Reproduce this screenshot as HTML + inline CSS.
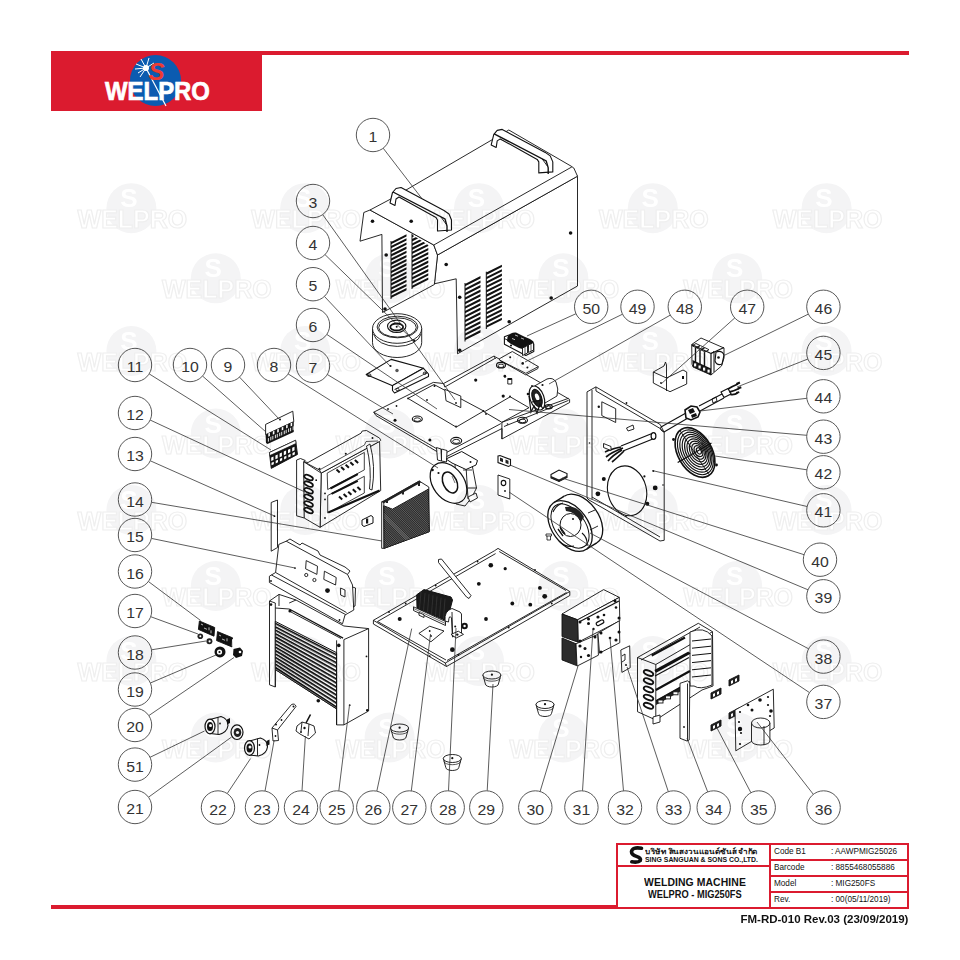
<!DOCTYPE html>
<html><head><meta charset="utf-8"><style>
html,body{margin:0;padding:0;background:#fff;}
body{width:960px;height:960px;position:relative;overflow:hidden;font-family:"Liberation Sans",sans-serif;}
svg{position:absolute;left:0;top:0;}
.c{fill:#fff;stroke:#444;stroke-width:0.9;}
.n{font-family:"Liberation Sans",sans-serif;font-size:14.8px;fill:#333;text-anchor:middle;}
.ws{font-family:"Liberation Sans",sans-serif;font-weight:bold;font-size:26px;fill:#fff;text-anchor:middle;}
.wt{font-family:"Liberation Sans",sans-serif;font-weight:bold;font-size:25px;fill:#fff;stroke:#efefef;stroke-width:1.2;text-anchor:middle;}
.L line{stroke:#333;stroke-width:0.8;}
.p{fill:#fff;stroke:#111;stroke-linejoin:round;}
.t{fill:none;stroke:#111;}
.k{fill:#111;stroke:none;}
.tb{position:absolute;font-family:"Liberation Sans",sans-serif;color:#111;white-space:nowrap;}
</style></head><body>
<svg width="960" height="960" viewBox="0 0 960 960">
<!-- header -->
<rect x="51" y="51" width="858" height="4" fill="#db1b2f"/>
<rect x="51" y="51" width="211" height="60" fill="#db1b2f"/>
<circle cx="155.5" cy="80.5" r="25.5" fill="#0b5bb0"/>
<g stroke="#fff" stroke-width="1" fill="none">
<path d="M146 68 L136 64 M146 68 L138 73 M146 68 L141 59 M146 68 L149 58 M146 68 L154 63 M146 68 L135 69 M146 68 L140 77"/>
<path d="M146 68 L166 106" stroke-width="1.2"/>
</g>
<circle cx="146" cy="68" r="3" fill="#fff"/>
<text x="156.5" y="80" font-family="Liberation Sans" font-weight="bold" font-style="italic" font-size="24" fill="#ee3b32" text-anchor="middle">S</text>
<text x="157.5" y="100" font-family="Liberation Sans" font-weight="bold" font-size="26" fill="#fff" stroke="#fff" stroke-width="0.7" text-anchor="middle" transform="translate(157.5 0) scale(0.92 1) translate(-157.5 0)">WELPRO</text>
<!-- footer -->
<rect x="51" y="905" width="567" height="4" fill="#db1b2f"/>
<g fill="none" stroke="#db1b2f" stroke-width="2">
<rect x="617" y="844" width="291" height="64"/>
<line x1="770" y1="844" x2="770" y2="908"/>
<line x1="617" y1="866" x2="770" y2="866"/>
<line x1="770" y1="860" x2="908" y2="860"/>
<line x1="770" y1="876" x2="908" y2="876"/>
<line x1="770" y1="892" x2="908" y2="892"/>
</g>
<g id="parts" stroke-width="0.9">
<polygon points="437.5,255.0 577.5,176.2 577.5,286.0 457.5,353.8 456.2,278.8 434.4,283.8" class="p" /><polygon points="363.8,212.5 370.0,210.0 433.8,245.0 437.5,255.0 434.4,284.5 382.5,312.5 381.9,234.4 360.0,241.2" class="p" /><polygon points="370.0,210.0 390.0,199.4 508.8,130.0 571.2,166.2 573.8,168.0 577.5,176.2 437.5,255.0 433.8,245.0" class="p" /><line x1="433.8" y1="245.0" x2="571.9" y2="166.9" class="t"/><path d="M391.0,244.2 L406.5,236.5 L406.5,234.2 L391.0,241.9 Z M391.0,248.3 L406.5,240.6 L406.5,238.3 L391.0,246.0 Z M391.0,252.5 L406.5,244.7 L406.5,242.4 L391.0,250.2 Z M391.0,256.6 L406.5,248.9 L406.5,246.6 L391.0,254.3 Z M391.0,260.8 L406.5,253.0 L406.5,250.7 L391.0,258.5 Z M391.0,264.9 L406.5,257.2 L406.5,254.9 L391.0,262.6 Z M391.0,269.1 L406.5,261.3 L406.5,259.0 L391.0,266.8 Z M391.0,273.2 L406.5,265.4 L406.5,263.1 L391.0,270.9 Z M391.0,277.3 L406.5,269.6 L406.5,267.3 L391.0,275.0 Z M391.0,281.5 L406.5,273.7 L406.5,271.4 L391.0,279.2 Z M391.0,285.6 L406.5,277.9 L406.5,275.6 L391.0,283.3 Z M391.0,289.8 L406.5,282.0 L406.5,279.7 L391.0,287.5 Z M391.0,293.9 L406.5,286.2 L406.5,283.9 L391.0,291.6 Z M391.0,298.1 L406.5,290.3 L406.5,288.0 L391.0,295.8 Z " fill="#111"/><line x1="391.0" y1="241.0" x2="391.0" y2="299.0" class="t" stroke-width="1.0"/><clipPath id="cl6"><polygon points="411.0,234.0 429.0,245.5 429.0,300.0 411.0,300.0"/></clipPath><path d="M412.0,237.2 L428.3,229.1 L428.3,226.8 L412.0,234.9 Z M412.0,241.4 L428.3,233.3 L428.3,231.0 L412.0,239.1 Z M412.0,245.7 L428.3,237.5 L428.3,235.2 L412.0,243.4 Z M412.0,249.9 L428.3,241.7 L428.3,239.4 L412.0,247.6 Z M412.0,254.1 L428.3,246.0 L428.3,243.7 L412.0,251.8 Z M412.0,258.4 L428.3,250.2 L428.3,247.9 L412.0,256.1 Z M412.0,262.6 L428.3,254.4 L428.3,252.1 L412.0,260.3 Z M412.0,266.8 L428.3,258.7 L428.3,256.4 L412.0,264.5 Z M412.0,271.0 L428.3,262.9 L428.3,260.6 L412.0,268.7 Z M412.0,275.3 L428.3,267.1 L428.3,264.8 L412.0,273.0 Z M412.0,279.5 L428.3,271.4 L428.3,269.1 L412.0,277.2 Z M412.0,283.7 L428.3,275.6 L428.3,273.3 L412.0,281.4 Z M412.0,288.0 L428.3,279.8 L428.3,277.5 L412.0,285.7 Z " fill="#111" clip-path="url(#cl6)"/><line x1="412.0" y1="234.0" x2="412.0" y2="289.0" class="t" stroke-width="1.0"/><path d="M465.0,286.2 L480.5,278.4 L480.5,276.1 L465.0,283.9 Z M465.0,290.7 L480.5,282.9 L480.5,280.6 L465.0,288.4 Z M465.0,295.2 L480.5,287.4 L480.5,285.1 L465.0,292.9 Z M465.0,299.7 L480.5,291.9 L480.5,289.6 L465.0,297.4 Z M465.0,304.2 L480.5,296.4 L480.5,294.1 L465.0,301.9 Z M465.0,308.7 L480.5,300.9 L480.5,298.6 L465.0,306.4 Z M465.0,313.2 L480.5,305.4 L480.5,303.1 L465.0,310.9 Z M465.0,317.7 L480.5,309.9 L480.5,307.6 L465.0,315.4 Z M465.0,322.2 L480.5,314.4 L480.5,312.1 L465.0,319.9 Z M465.0,326.7 L480.5,318.9 L480.5,316.6 L465.0,324.4 Z M465.0,331.2 L480.5,323.4 L480.5,321.1 L465.0,328.9 Z M465.0,335.7 L480.5,327.9 L480.5,325.6 L465.0,333.4 Z M465.0,340.2 L480.5,332.4 L480.5,330.1 L465.0,337.9 Z " fill="#111"/><line x1="465.0" y1="283.0" x2="465.0" y2="341.5" class="t" stroke-width="1.0"/><path d="M486.3,274.9 L501.9,267.1 L501.9,264.8 L486.3,272.6 Z M486.3,279.3 L501.9,271.5 L501.9,269.2 L486.3,277.0 Z M486.3,283.7 L501.9,275.9 L501.9,273.6 L486.3,281.4 Z M486.3,288.1 L501.9,280.3 L501.9,278.0 L486.3,285.8 Z M486.3,292.5 L501.9,284.7 L501.9,282.4 L486.3,290.2 Z M486.3,296.9 L501.9,289.1 L501.9,286.8 L486.3,294.6 Z M486.3,301.3 L501.9,293.5 L501.9,291.2 L486.3,299.0 Z M486.3,305.8 L501.9,298.0 L501.9,295.7 L486.3,303.5 Z M486.3,310.2 L501.9,302.4 L501.9,300.1 L486.3,307.9 Z M486.3,314.6 L501.9,306.8 L501.9,304.5 L486.3,312.3 Z M486.3,319.0 L501.9,311.2 L501.9,308.9 L486.3,316.7 Z M486.3,323.4 L501.9,315.6 L501.9,313.3 L486.3,321.1 Z M486.3,327.8 L501.9,320.0 L501.9,317.7 L486.3,325.5 Z " fill="#111"/><line x1="486.3" y1="271.7" x2="486.3" y2="329.0" class="t" stroke-width="1.0"/><circle cx="372.5" cy="221.2" r="1.8" class="k"/><circle cx="411.2" cy="221.2" r="1.8" class="k"/><circle cx="386.2" cy="255.0" r="1.8" class="k"/><circle cx="446.2" cy="264.5" r="1.8" class="k"/><circle cx="459.7" cy="297.2" r="1.8" class="k"/><circle cx="570.6" cy="233.0" r="1.8" class="k"/><circle cx="551.2" cy="298.0" r="1.8" class="k"/><circle cx="459.7" cy="350.3" r="1.8" class="k"/><circle cx="385.0" cy="309.0" r="1.8" class="k"/><circle cx="509.2" cy="321.7" r="1.8" class="k"/><polygon points="390.0,203.0 392.5,192.5 396.0,188.5 401.0,187.5 444.0,210.5 449.0,214.0 451.5,220.0 451.5,230.0 437.5,231.0 437.5,220.0 436.0,217.5 399.0,197.0 396.0,199.0 395.0,205.5" class="p" stroke-width="1.1"/><polyline points="393.0,192.0 445.0,219.0 447.0,226.0 447.0,232.0" class="t" stroke-width="1.4"/><polyline points="441.0,217.0 446.0,224.0" class="t" /><polygon points="491.2,144.9 493.8,134.4 497.2,130.4 502.2,129.4 545.2,152.4 550.2,155.9 552.8,161.9 552.8,171.9 538.8,172.9 538.8,161.9 537.2,159.4 500.2,138.9 497.2,140.9 496.2,147.4" class="p" stroke-width="1.1"/><polyline points="494.2,133.9 546.2,160.9 548.2,167.9 548.2,173.9" class="t" stroke-width="1.4"/><polyline points="542.2,158.9 547.2,165.9" class="t" /><g class="p"><path d="M372.5,328.5 L372.5,342.7 A24.6,14.8 0 0 0 421.7,342.7 L421.7,328.5 Z" class="p"/><ellipse cx="397.1" cy="328.5" rx="24.6" ry="14.8" class="p"/></g><path d="M373.5,334 A24,14.5 0 0 0 421,334" class="t"/><ellipse cx="397.5" cy="327" rx="20.4" ry="10.8" class="t"/><ellipse cx="397.5" cy="327.5" rx="18.8" ry="9.6" class="t"/><ellipse cx="396.7" cy="326.3" rx="9.2" ry="6.2" class="t" stroke-width="1.1"/><ellipse cx="396.7" cy="327" rx="6.4" ry="3.5" class="t" stroke-width="1.8"/><circle cx="396.7" cy="326.7" r="1.0" class="k"/><circle cx="414.2" cy="340.8" r="1.2" class="k"/><polygon points="366.2,374.5 391.2,359.4 423.5,368.2 392.6,385.8" class="p" stroke-width="1.1"/><polygon points="392.5,385.5 423.5,368.3 428.5,374.0 428.5,376.5 394.5,393.0 392.5,390.5" class="p" stroke-width="1.1"/><line x1="394.5" y1="389.5" x2="427.5" y2="372.5" class="t" stroke-width="0.8"/><ellipse cx="369" cy="375.2" rx="2" ry="1.3" class="t" stroke-width="0.9"/><ellipse cx="424.8" cy="373.2" rx="1.6" ry="1.1" class="t" stroke-width="0.9"/><ellipse cx="397.5" cy="389.5" rx="1.6" ry="1.1" class="t" stroke-width="0.9"/><circle cx="390.5" cy="366.0" r="1.1" class="k"/><circle cx="397" cy="370.5" r="1.7" fill="#555"/><polygon points="373.7,412.2 376.0,415.6 446.0,456.9 502.0,428.5 501.9,439.0 569.6,402.5 569.6,399.4 495.6,357.0 494.0,356.0 443.6,383.5 433.3,382.4" class="p" /><line x1="373.7" y1="412.2" x2="444.8" y2="453.4" class="t"/><line x1="444.8" y1="453.4" x2="500.9" y2="423.6" class="t"/><line x1="444.8" y1="453.4" x2="446.0" y2="456.9" class="t"/><line x1="444.8" y1="387.0" x2="495.2" y2="358.3" class="t"/><line x1="443.6" y1="383.5" x2="444.8" y2="387.0" class="t"/><line x1="494.0" y1="356.0" x2="495.6" y2="359.0" class="t"/><line x1="501.9" y1="422.3" x2="568.5" y2="398.3" class="t"/><line x1="504.0" y1="426.5" x2="568.5" y2="400.4" class="t"/><line x1="501.9" y1="422.3" x2="501.9" y2="439.0" class="t"/><polygon points="484.2,411.9 510.2,396.8 529.0,407.7 501.9,422.3" class="t" /><polygon points="408.0,398.4 434.0,384.5 483.7,411.0 456.2,427.1" class="t" /><polygon points="444.8,389.3 460.8,396.1 460.8,407.6 446.0,400.7" class="p" /><circle cx="456.0" cy="403.0" r="0.9" class="k"/><ellipse cx="417.3" cy="419" rx="5" ry="3" class="t" stroke-width="1.1"/><ellipse cx="417.3" cy="419.6" rx="3.25" ry="1.7999999999999998" class="t"/><ellipse cx="456.2" cy="440.8" rx="5.5" ry="3.4" class="t" stroke-width="1.1"/><ellipse cx="456.2" cy="441.40000000000003" rx="3.575" ry="2.04" class="t"/><ellipse cx="522.5" cy="420.3" rx="5" ry="3" class="t" stroke-width="1.1"/><ellipse cx="522.5" cy="420.90000000000003" rx="3.25" ry="1.7999999999999998" class="t"/><ellipse cx="501" cy="365.2" rx="4.5" ry="2.8" class="t" stroke-width="1.1"/><ellipse cx="501" cy="365.8" rx="2.9250000000000003" ry="1.68" class="t"/><ellipse cx="548.7" cy="406.7" rx="3.6" ry="2.2" class="t" stroke-width="1.1"/><ellipse cx="548.7" cy="407.3" rx="2.3400000000000003" ry="1.32" class="t"/><circle cx="395.0" cy="420.2" r="1.5" class="k"/><circle cx="429.9" cy="440.1" r="1.5" class="k"/><circle cx="475.7" cy="380.1" r="1.6" class="k"/><circle cx="503.2" cy="396.1" r="1.6" class="k"/><circle cx="504.8" cy="376.0" r="1.3" class="k"/><circle cx="505.0" cy="376.5" r="1.2" class="k"/><circle cx="434.5" cy="386.0" r="1.0" class="k"/><circle cx="408.0" cy="398.4" r="0.9" class="k"/><circle cx="456.0" cy="426.5" r="0.9" class="k"/><circle cx="483.5" cy="411.0" r="0.9" class="k"/><circle cx="396.5" cy="406.0" r="0.9" class="k"/><circle cx="486.0" cy="414.0" r="0.9" class="k"/><circle cx="388.0" cy="409.0" r="0.9" class="k"/><circle cx="427.0" cy="400.0" r="0.9" class="k"/><circle cx="507.5" cy="424.0" r="0.8" class="k"/><circle cx="510.0" cy="396.5" r="0.9" class="k"/><circle cx="532.0" cy="386.0" r="0.9" class="k"/><rect x="507.8" y="378.5" width="4" height="5.5" class="p" stroke-width="0.9"/><rect x="507.8" y="378" width="4" height="2" fill="#111"/><polygon points="499.3,358.8 512.3,351.5 538.3,366.6 537.8,368.6 525.8,374.9 499.8,360.3" class="p" /><line x1="499.8" y1="360.3" x2="525.8" y2="373.3" class="t"/><line x1="525.8" y1="373.3" x2="538.3" y2="366.6" class="t"/><circle cx="510.2" cy="357.2" r="1.0" class="k"/><circle cx="522.7" cy="363.4" r="1.3" class="k"/><circle cx="527.4" cy="367.6" r="1.0" class="k"/><path d="M534.5,386 L547,379 Q553,377 556,382 Q559,389 557,396 L545,403 Z" class="p"/><ellipse cx="537" cy="398" rx="7" ry="12.5" transform="rotate(-20 537 398)" class="p" stroke-width="1.2"/><ellipse cx="537" cy="398" rx="4.5" ry="9" transform="rotate(-20 537 398)" fill="#222" stroke="#111" stroke-width="1.2"/><ellipse cx="537.5" cy="397" rx="2" ry="3.5" transform="rotate(-20 537 398)" fill="#fff"/><path d="M529,396 L531,412 L534,406 L537,413 L540,404 L543,409 M532,402 L542,400" class="t" stroke-width="1.2"/><circle cx="542.5" cy="385.0" r="1.1" class="k"/><circle cx="528.0" cy="394.0" r="1.3" class="k"/><polygon points="265.6,424.4 292.8,411.2 293.8,421.6 265.6,434.7" class="p" /><circle cx="280.0" cy="419.5" r="1.0" class="k"/><path d="M265.6,434.7 L293.75,421.6 L293.75,432 L267.5,444 L266,443 Z" fill="#141414"/><path d="M268.3,433.6 l1.6,-0.75 l0,3.2 l-1.6,0.75 z M267.9,438.2 l0.9,-0.4 l0,3.6 l-0.9,0.4 z M270.4,437.0 l0.9,-0.4 l0,3.6 l-0.9,0.4 z M272.8,431.5 l1.6,-0.75 l0,3.2 l-1.6,0.75 z M272.4,436.1 l0.9,-0.4 l0,3.6 l-0.9,0.4 z M274.9,434.9 l0.9,-0.4 l0,3.6 l-0.9,0.4 z M277.2,429.5 l1.6,-0.75 l0,3.2 l-1.6,0.75 z M276.8,434.1 l0.9,-0.4 l0,3.6 l-0.9,0.4 z M279.3,432.9 l0.9,-0.4 l0,3.6 l-0.9,0.4 z M281.7,427.4 l1.6,-0.75 l0,3.2 l-1.6,0.75 z M281.3,432.0 l0.9,-0.4 l0,3.6 l-0.9,0.4 z M283.8,430.8 l0.9,-0.4 l0,3.6 l-0.9,0.4 z M286.1,425.3 l1.6,-0.75 l0,3.2 l-1.6,0.75 z M285.7,429.9 l0.9,-0.4 l0,3.6 l-0.9,0.4 z M288.2,428.7 l0.9,-0.4 l0,3.6 l-0.9,0.4 z M290.6,423.2 l1.6,-0.75 l0,3.2 l-1.6,0.75 z M290.2,427.9 l0.9,-0.4 l0,3.6 l-0.9,0.4 z M292.7,426.6 l0.9,-0.4 l0,3.6 l-0.9,0.4 z " fill="#fff"/><path d="M269.4,452.5 L295.6,440.3 L297.5,454.4 L271.25,468.4 Z" fill="#141414" stroke="#111"/><path d="M269.4,452.5 L295.6,440.3 L296,443.5 L269.8,455.6 Z" fill="#fff" stroke="#111" stroke-width="0.7"/><path d="M271.2,457.5 l2.3,-1.07 l0,3.6 l-2.3,1.07 z M271.5,462.7 l2.3,-1.07 l0,2.6 l-2.3,1.07 z M275.4,455.6 l2.3,-1.07 l0,3.6 l-2.3,1.07 z M275.7,460.8 l2.3,-1.07 l0,2.6 l-2.3,1.07 z M279.6,453.6 l2.3,-1.07 l0,3.6 l-2.3,1.07 z M279.9,458.8 l2.3,-1.07 l0,2.6 l-2.3,1.07 z M283.8,451.6 l2.3,-1.07 l0,3.6 l-2.3,1.07 z M284.1,456.8 l2.3,-1.07 l0,2.6 l-2.3,1.07 z M288.0,449.7 l2.3,-1.07 l0,3.6 l-2.3,1.07 z M288.3,454.9 l2.3,-1.07 l0,2.6 l-2.3,1.07 z M292.2,447.8 l2.3,-1.07 l0,3.6 l-2.3,1.07 z M292.5,452.9 l2.3,-1.07 l0,2.6 l-2.3,1.07 z " fill="#fff"/><polygon points="321.2,473.1 379.6,441.4 380.7,490.6 320.1,527.3" class="p" /><polygon points="303.7,461.7 308.0,462.5 361.0,433.2 362.2,431.0 366.5,430.5 379.6,438.1 380.7,440.3 379.6,441.4 321.2,473.1 319.5,470.0" class="p" /><polyline points="319.5,469.9 364.5,445.0 366.0,441.5 378.0,441.0" class="t" stroke-width="0.7"/><polygon points="296.6,460.0 300.5,458.5 305.3,460.5 303.7,461.7 321.2,473.1 320.1,527.3 304.2,518.0 296.6,515.8" class="p" /><line x1="303.7" y1="461.7" x2="304.2" y2="518.0" class="t" stroke-width="1.0"/><ellipse cx="308.6" cy="477.5" rx="4.6" ry="2.1" transform="rotate(24 308.6 477.5)" fill="#fff" stroke="#111" stroke-width="1.8"/><ellipse cx="308.6" cy="484.1" rx="4.6" ry="2.1" transform="rotate(24 308.6 484.1)" fill="#fff" stroke="#111" stroke-width="1.8"/><ellipse cx="308.6" cy="490.7" rx="4.6" ry="2.1" transform="rotate(24 308.6 490.7)" fill="#fff" stroke="#111" stroke-width="1.8"/><ellipse cx="308.6" cy="497.3" rx="4.6" ry="2.1" transform="rotate(24 308.6 497.3)" fill="#fff" stroke="#111" stroke-width="1.8"/><ellipse cx="308.6" cy="503.9" rx="4.6" ry="2.1" transform="rotate(24 308.6 503.9)" fill="#fff" stroke="#111" stroke-width="1.8"/><ellipse cx="308.6" cy="510.5" rx="4.6" ry="2.1" transform="rotate(24 308.6 510.5)" fill="#fff" stroke="#111" stroke-width="1.8"/><path d="M366.5,446 Q372,468 369.5,489 L372,490 Q376,466 370,444 Z" class="p" stroke-width="0.9"/><polygon points="327.2,473.1 364.3,452.4 364.3,469.9 327.7,489.5" class="t" stroke-width="0.8"/><polygon points="327.7,495.5 364.3,476.3 364.3,493.0 327.7,513.0" class="t" stroke-width="0.8"/><line x1="330.4" y1="488.5" x2="357.8" y2="474.2" class="t" stroke-width="2.0"/><line x1="331.5" y1="493.9" x2="357.8" y2="480.8" class="t" stroke-width="2.0"/><line x1="328.3" y1="512.5" x2="379.6" y2="490.6" class="t" stroke-width="2.2"/><line x1="336.5" y1="469.5" x2="339.7" y2="472.5" class="t" stroke-width="2.0"/><line x1="339.0" y1="496.5" x2="342.2" y2="499.5" class="t" stroke-width="2.0"/><line x1="341.1" y1="467.1" x2="344.3" y2="470.1" class="t" stroke-width="2.0"/><line x1="343.6" y1="494.1" x2="346.8" y2="497.1" class="t" stroke-width="2.0"/><line x1="345.7" y1="464.7" x2="348.9" y2="467.7" class="t" stroke-width="2.0"/><line x1="348.2" y1="491.7" x2="351.4" y2="494.7" class="t" stroke-width="2.0"/><line x1="350.3" y1="462.3" x2="353.5" y2="465.3" class="t" stroke-width="2.0"/><line x1="352.8" y1="489.3" x2="356.0" y2="492.3" class="t" stroke-width="2.0"/><line x1="354.9" y1="459.9" x2="358.1" y2="462.9" class="t" stroke-width="2.0"/><line x1="357.4" y1="486.9" x2="360.6" y2="489.9" class="t" stroke-width="2.0"/><circle cx="316.2" cy="480.2" r="0.9" class="k"/><circle cx="325.0" cy="493.4" r="0.9" class="k"/><circle cx="325.0" cy="499.4" r="0.9" class="k"/><circle cx="325.0" cy="518.0" r="0.9" class="k"/><circle cx="345.8" cy="453.7" r="1.0" class="k"/><circle cx="319.5" cy="468.8" r="1.0" class="k"/><circle cx="372.5" cy="438.1" r="1.0" class="k"/><path d="M362,520 L371,515.5 L373,517 L373,523 L364,526.5 L362,525 Z" class="p" stroke-width="1.0"/><rect x="366" y="518.5" width="2.2" height="5" fill="#111"/><polygon points="271.2,502.5 277.5,500.0 277.5,547.5 271.2,551.2" class="p" /><circle cx="274.5" cy="516.2" r="0.9" class="k"/><polygon points="381.7,501.7 383.8,501.0 419.2,481.0 428.8,487.0 429.2,531.7 384.2,548.3 381.7,548.3" class="p" /><path d="M383.75,505.8 L392.5,509.2 L428.3,489.2 L429.2,531.7 L384.2,548.3 Z" fill="#2a2a2a" stroke="#111" stroke-width="1"/><clipPath id="hs14"><path d="M383.75,505.8 L392.5,509.2 L428.3,489.2 L429.2,531.7 L384.2,548.3 Z"/></clipPath><path d="M356.6,490 L416.6,550 M358.8,490 L418.8,550 M361.0,490 L421.0,550 M363.2,490 L423.2,550 M365.4,490 L425.4,550 M367.6,490 L427.6,550 M369.8,490 L429.8,550 M372.0,490 L432.0,550 M374.2,490 L434.2,550 M376.4,490 L436.4,550 M378.6,490 L438.6,550 M380.8,490 L440.8,550 M383.0,490 L443.0,550 M385.2,490 L445.2,550 M387.4,490 L447.4,550 M389.6,490 L449.6,550 M391.8,490 L451.8,550 M394.0,490 L454.0,550 M396.2,490 L456.2,550 M398.4,490 L458.4,550 M400.6,490 L460.6,550 M402.8,490 L462.8,550 M405.0,490 L465.0,550 M407.2,490 L467.2,550 M409.4,490 L469.4,550 M411.6,490 L471.6,550 M413.8,490 L473.8,550 M416.0,490 L476.0,550 M418.2,490 L478.2,550 M420.4,490 L480.4,550 M422.6,490 L482.6,550 M424.8,490 L484.8,550 M427.0,490 L487.0,550 M429.2,490 L489.2,550 M431.4,490 L491.4,550 M433.6,490 L493.6,550 M435.8,490 L495.8,550 M438.0,490 L498.0,550 M383.0,550 L343.0,510 M385.2,550 L345.2,510 M387.4,550 L347.4,510 M389.6,550 L349.6,510 M391.8,550 L351.8,510 M394.0,550 L354.0,510 M396.2,550 L356.2,510 M398.4,550 L358.4,510 M400.6,550 L360.6,510 M402.8,550 L362.8,510 M405.0,550 L365.0,510 M407.2,550 L367.2,510 M409.4,550 L369.4,510 M411.6,550 L371.6,510 M413.8,550 L373.8,510 M416.0,550 L376.0,510 M418.2,550 L378.2,510 M420.4,550 L380.4,510 " stroke="#8a8a8a" stroke-width="0.55" fill="none" clip-path="url(#hs14)"/><line x1="383.8" y1="501.0" x2="383.8" y2="548.3" class="t" stroke-width="0.8"/><path d="M381.7,501.7 L419.5,480.5 L421,482.5 L383.5,503.5 Z" fill="#222"/><rect x="386" y="500" width="2" height="3" fill="#222"/><rect x="402" y="491.5" width="2" height="3" fill="#222"/><rect x="418" y="483" width="2" height="3" fill="#222"/><polygon points="436.5,447.5 441.0,449.0 441.5,461.0 437.5,460.0" class="p" /><polygon points="441.5,449.0 447.0,450.5 446.5,462.0 441.5,461.0" class="p" /><polygon points="455.0,462.0 472.0,464.5 476.5,488.0 472.0,497.0 465.0,506.0 456.0,504.0" class="p" /><line x1="466.0" y1="466.0" x2="468.0" y2="499.0" class="t" stroke-width="0.9"/><line x1="468.0" y1="488.0" x2="476.5" y2="488.0" class="t" stroke-width="0.9"/><line x1="463.0" y1="470.0" x2="472.0" y2="470.0" class="t" stroke-width="0.8"/><polygon points="468.0,497.0 476.0,493.0 477.5,498.0 470.0,502.0" class="p" stroke-width="0.9"/><polygon points="446.0,459.0 461.7,451.5 477.5,460.5 476.0,465.0 466.0,469.5 452.0,463.0" class="p" stroke-width="1.0"/><circle cx="470.5" cy="462.0" r="1.0" class="k"/><ellipse cx="448.5" cy="483" rx="15.5" ry="22.5" transform="rotate(-37 448.5 483)" class="p" stroke-width="1.2"/><ellipse cx="450" cy="482.5" rx="6.8" ry="11" transform="rotate(-25 450 482.5)" class="t" stroke-width="1.5"/><line x1="452.0" y1="476.0" x2="455.0" y2="483.0" class="t" stroke-width="0.6"/><circle cx="432.5" cy="470.0" r="1.3" class="k"/><circle cx="438.5" cy="473.0" r="1.1" class="k"/><polygon points="278.8,544.4 286.2,541.2 347.5,574.4 352.5,585.0 353.8,610.0 345.0,615.0 342.5,623.8 269.4,582.5 269.4,576.2 275.6,572.5" class="p" /><line x1="271.5" y1="575.0" x2="345.5" y2="614.5" class="t"/><line x1="275.6" y1="572.5" x2="346.5" y2="612.5" class="t"/><polyline points="286.2,541.2 290.0,539.0 300.0,545.0 302.0,543.0 318.0,551.0 320.0,555.0 345.0,567.0 350.0,571.0 347.5,574.4" class="t" /><polygon points="306.2,560.6 317.5,566.2 316.9,574.4 305.6,568.8" class="t" /><polygon points="324.4,571.2 336.2,577.5 335.6,585.0 323.8,579.4" class="t" /><polygon points="340.6,588.0 345.0,590.0 345.0,597.0 340.6,595.0" class="t" /><circle cx="327.5" cy="590.6" r="2.4" class="k"/><circle cx="306.25" cy="575" r="1.6" class="t"/><circle cx="314.4" cy="580" r="1.6" class="t"/><circle cx="295.0" cy="568.1" r="0.9" class="k"/><circle cx="271.0" cy="581.0" r="0.9" class="k"/><circle cx="339.5" cy="620.0" r="0.9" class="k"/><polyline points="352.5,587.0 355.5,588.0 355.0,606.0 353.0,607.0" class="t" /><polygon points="269.5,601.0 279.0,594.4 296.0,600.0 343.9,626.0 368.6,628.6 368.6,711.0 343.9,724.9 336.6,724.9 336.6,708.9 275.3,669.5 275.3,687.0 269.5,684.8" class="p" /><line x1="275.3" y1="603.0" x2="275.3" y2="687.0" class="t"/><line x1="275.3" y1="603.0" x2="269.5" y2="601.0" class="t"/><path d="M275.3,621.4 L336.6,652.7 L336.6,708.9 L275.3,669.5 Z" fill="#fff" stroke="#111" stroke-width="1"/><line x1="275.5" y1="623.4" x2="336.4" y2="654.7" class="t" stroke-width="1.5"/><line x1="275.5" y1="624.6" x2="336.4" y2="655.9" class="t" stroke-width="0.5"/><line x1="275.5" y1="626.8" x2="336.4" y2="658.7" class="t" stroke-width="1.5"/><line x1="275.5" y1="628.0" x2="336.4" y2="659.9" class="t" stroke-width="0.5"/><line x1="275.5" y1="630.2" x2="336.4" y2="662.7" class="t" stroke-width="1.5"/><line x1="275.5" y1="631.4" x2="336.4" y2="663.9" class="t" stroke-width="0.5"/><line x1="275.5" y1="633.6" x2="336.4" y2="666.7" class="t" stroke-width="1.5"/><line x1="275.5" y1="634.8" x2="336.4" y2="667.9" class="t" stroke-width="0.5"/><line x1="275.5" y1="637.0" x2="336.4" y2="670.8" class="t" stroke-width="1.5"/><line x1="275.5" y1="638.2" x2="336.4" y2="672.0" class="t" stroke-width="0.5"/><line x1="275.5" y1="640.4" x2="336.4" y2="674.8" class="t" stroke-width="1.5"/><line x1="275.5" y1="641.6" x2="336.4" y2="676.0" class="t" stroke-width="0.5"/><line x1="275.5" y1="643.8" x2="336.4" y2="678.8" class="t" stroke-width="1.5"/><line x1="275.5" y1="645.0" x2="336.4" y2="680.0" class="t" stroke-width="0.5"/><line x1="275.5" y1="647.1" x2="336.4" y2="682.8" class="t" stroke-width="1.5"/><line x1="275.5" y1="648.3" x2="336.4" y2="684.0" class="t" stroke-width="0.5"/><line x1="275.5" y1="650.5" x2="336.4" y2="686.8" class="t" stroke-width="1.5"/><line x1="275.5" y1="651.7" x2="336.4" y2="688.0" class="t" stroke-width="0.5"/><line x1="275.5" y1="653.9" x2="336.4" y2="690.8" class="t" stroke-width="1.5"/><line x1="275.5" y1="655.1" x2="336.4" y2="692.0" class="t" stroke-width="0.5"/><line x1="275.5" y1="657.3" x2="336.4" y2="694.9" class="t" stroke-width="1.5"/><line x1="275.5" y1="658.5" x2="336.4" y2="696.1" class="t" stroke-width="0.5"/><line x1="275.5" y1="660.7" x2="336.4" y2="698.9" class="t" stroke-width="1.5"/><line x1="275.5" y1="661.9" x2="336.4" y2="700.1" class="t" stroke-width="0.5"/><line x1="275.5" y1="664.1" x2="336.4" y2="702.9" class="t" stroke-width="1.5"/><line x1="275.5" y1="665.3" x2="336.4" y2="704.1" class="t" stroke-width="0.5"/><line x1="275.5" y1="667.5" x2="336.4" y2="706.9" class="t" stroke-width="1.5"/><line x1="275.5" y1="668.7" x2="336.4" y2="708.1" class="t" stroke-width="0.5"/><line x1="336.6" y1="640.3" x2="336.6" y2="724.9" class="t"/><line x1="343.9" y1="639.6" x2="343.9" y2="724.9" class="t"/><line x1="343.9" y1="639.6" x2="368.6" y2="628.6" class="t"/><line x1="289.2" y1="609.0" x2="343.1" y2="638.1" class="t" stroke-width="1.2"/><line x1="291.0" y1="612.0" x2="341.0" y2="638.5" class="t"/><line x1="275.3" y1="608.0" x2="289.2" y2="609.0" class="t"/><line x1="279.0" y1="594.4" x2="279.0" y2="606.0" class="t"/><polyline points="289.2,603.0 296.0,600.0" class="t" /><circle cx="271.0" cy="604.6" r="1.3" class="k"/><circle cx="338.8" cy="645.4" r="1.8" class="k"/><circle cx="318.3" cy="700.8" r="1.8" class="k"/><circle cx="366.5" cy="656.4" r="0.9" class="k"/><circle cx="367.2" cy="710.3" r="1.2" class="k"/><circle cx="349.7" cy="705.2" r="0.9" class="k"/><circle cx="290.0" cy="611.0" r="1.6" class="k"/><polygon points="373.4,620.3 494.4,550.8 498.0,548.4 569.8,591.5 569.8,595.5 446.5,666.5 373.4,624.0" class="p" /><line x1="373.4" y1="620.3" x2="445.3" y2="663.0" class="t"/><line x1="445.3" y1="663.0" x2="569.8" y2="591.5" class="t"/><line x1="445.3" y1="663.0" x2="446.5" y2="666.5" class="t"/><polyline points="377.5,621.5 495.6,553.6" class="t" /><polyline points="499.2,551.5 566.0,590.5" class="t" /><polyline points="447.0,660.5 566.5,592.5" class="t" /><polyline points="377.5,621.5 446.0,660.0" class="t" /><circle cx="405.7" cy="603.5" r="0.9" class="k"/><circle cx="435.7" cy="585.5" r="0.9" class="k"/><circle cx="477.6" cy="561.6" r="0.9" class="k"/><circle cx="535.0" cy="570.0" r="0.9" class="k"/><circle cx="551.8" cy="603.5" r="0.9" class="k"/><circle cx="508.7" cy="627.5" r="0.9" class="k"/><circle cx="458.4" cy="655.0" r="0.9" class="k"/><circle cx="389.0" cy="612.0" r="0.9" class="k"/><circle cx="429.7" cy="656.2" r="0.9" class="k"/><circle cx="490.8" cy="565.2" r="2.3" class="k"/><circle cx="505.2" cy="568.7" r="1.6" class="k"/><circle cx="478.8" cy="583.8" r="1.9" class="k"/><circle cx="512.3" cy="603.5" r="1.9" class="k"/><circle cx="530.3" cy="604.7" r="1.9" class="k"/><circle cx="539.9" cy="587.9" r="1.9" class="k"/><circle cx="544.7" cy="596.3" r="2.4" class="k"/><circle cx="486.0" cy="619.0" r="1.9" class="k"/><circle cx="399.7" cy="619.0" r="2.0" class="k"/><circle cx="452.4" cy="649.7" r="2.4" class="k"/><polygon points="418.9,633.4 429.7,626.2 444.0,631.0 430.9,641.8" class="p" /><circle cx="429.7" cy="631.0" r="0.9" class="k"/><circle cx="431.0" cy="636.0" r="0.9" class="k"/><path d="M416.7,594.8 L424,589.6 L451,597 L452.5,600 L447,621 L417,608 Z" fill="#1a1a1a" stroke="#111" stroke-width="1"/><line x1="421.0" y1="592.0" x2="419.5" y2="609.0" stroke="#3a3a3a" stroke-width="0.7"/><line x1="425.0" y1="593.1" x2="423.5" y2="610.6" stroke="#3a3a3a" stroke-width="0.7"/><line x1="429.0" y1="594.2" x2="427.5" y2="612.2" stroke="#3a3a3a" stroke-width="0.7"/><line x1="433.0" y1="595.3" x2="431.5" y2="613.8" stroke="#3a3a3a" stroke-width="0.7"/><line x1="437.0" y1="596.4" x2="435.5" y2="615.4" stroke="#3a3a3a" stroke-width="0.7"/><line x1="441.0" y1="597.5" x2="439.5" y2="617.0" stroke="#3a3a3a" stroke-width="0.7"/><line x1="445.0" y1="598.6" x2="443.5" y2="618.6" stroke="#3a3a3a" stroke-width="0.7"/><polygon points="413.5,606.8 445.5,621.5 445.5,625.5 413.5,610.5" class="p" /><line x1="414.0" y1="608.7" x2="445.5" y2="623.5" class="t" stroke-width="0.6"/><polygon points="419.0,612.5 424.0,614.8 424.0,617.5 419.0,615.2" class="p" /><path d="M445,621 Q444,611 452,608.5 L460,612 L461.5,614 L461.5,633 L452.5,637 L451.5,618 Q449,614 448.5,622 Z" class="p"/><line x1="452.0" y1="612.0" x2="452.5" y2="636.0" class="t"/><circle cx="455.2" cy="626.6" r="1.0" class="k"/><polygon points="451.0,634.4 458.3,631.2 463.5,634.4 456.2,638.0" class="p" /><circle cx="457.3" cy="634.6" r="1.2" class="k"/><circle cx="464.6" cy="626" r="3.2" class="k"/><circle cx="464.6" cy="626" r="1.2" fill="#fff"/><polygon points="438.5,559.5 441.5,559.0 471.0,595.5 469.0,598.5 466.5,597.0 438.5,562.5" class="p" /><path d="M390.6,728 L393.1,737 A6.5,3 0 0 0 406.1,737 L408.6,728 Z" class="p"/><ellipse cx="399.6" cy="728" rx="9" ry="4" class="p"/><path d="M391.40000000000003,731 A8.2,3.2 0 0 0 407.8,731" class="t" stroke-width="0.7"/><circle cx="399.6" cy="727.7" r="1.1" class="k"/><path d="M443.3,758.5 L445.8,767.5 A6.5,3 0 0 0 458.8,767.5 L461.3,758.5 Z" class="p"/><ellipse cx="452.3" cy="758.5" rx="9" ry="4" class="p"/><path d="M444.1,761.5 A8.2,3.2 0 0 0 460.5,761.5" class="t" stroke-width="0.7"/><circle cx="452.3" cy="758.2" r="1.1" class="k"/><path d="M482.9,675 L485.4,684 A6.5,3 0 0 0 498.4,684 L500.9,675 Z" class="p"/><ellipse cx="491.9" cy="675" rx="9" ry="4" class="p"/><path d="M483.7,678 A8.2,3.2 0 0 0 500.09999999999997,678" class="t" stroke-width="0.7"/><circle cx="491.9" cy="674.7" r="1.1" class="k"/><path d="M536,704.5 L538.5,713.5 A6.5,3 0 0 0 551.5,713.5 L554,704.5 Z" class="p"/><ellipse cx="545" cy="704.5" rx="9" ry="4" class="p"/><path d="M536.8,707.5 A8.2,3.2 0 0 0 553.2,707.5" class="t" stroke-width="0.7"/><circle cx="545.0" cy="704.2" r="1.1" class="k"/><polygon points="562.0,614.0 603.6,589.6 619.3,597.4 577.6,619.8" class="p" /><polygon points="577.6,619.8 619.3,597.4 619.8,620.8 578.1,642.2" class="p" /><path d="M562,614 L577.6,619.8 L578.1,642.2 L562,636.5 Z" fill="#2c2c2c" stroke="#111"/><path d="M562,638 L576,643.75 L576.6,665.6 L562,659.9 Z" fill="#2c2c2c" stroke="#111"/><polygon points="576.0,643.8 597.9,634.4 598.4,655.2 577.0,666.1" class="p" /><polygon points="597.9,633.3 619.3,620.8 619.8,642.7 599.5,653.1" class="p" /><line x1="579.0" y1="622.0" x2="619.0" y2="601.0" class="t" stroke-width="1.2"/><circle cx="580.0" cy="622.0" r="1.5" class="k"/><circle cx="615.0" cy="601.0" r="1.5" class="k"/><circle cx="616.0" cy="607.5" r="1.3" class="k"/><circle cx="588.5" cy="619.0" r="1.5" class="k"/><circle cx="588.5" cy="623.5" r="1.5" class="k"/><circle cx="598.0" cy="617.0" r="1.6" class="k"/><circle cx="604.0" cy="615.0" r="1.3" class="k"/><circle cx="593.5" cy="629.0" r="1.2" class="k"/><circle cx="580.0" cy="641.0" r="1.5" class="k"/><circle cx="619.0" cy="618.0" r="1.5" class="k"/><circle cx="580.0" cy="646.0" r="1.6" class="k"/><circle cx="585.0" cy="648.5" r="1.5" class="k"/><circle cx="588.5" cy="655.5" r="1.6" class="k"/><circle cx="581.0" cy="657.0" r="1.2" class="k"/><circle cx="595.0" cy="637.0" r="1.5" class="k"/><circle cx="601.0" cy="633.0" r="1.5" class="k"/><circle cx="610.0" cy="638.0" r="1.3" class="k"/><circle cx="616.0" cy="640.0" r="1.6" class="k"/><circle cx="601.0" cy="652.0" r="1.5" class="k"/><circle cx="619.0" cy="632.0" r="1.5" class="k"/><rect x="596" y="621" width="8" height="3.5" rx="1.5" transform="rotate(-28 600 622.7)" class="p" stroke-width="1.2"/><polygon points="620.8,650.0 629.7,645.8 630.2,667.7 621.9,672.4" class="p" /><polyline points="622.0,656.0 625.0,654.0 625.0,660.0 622.0,662.0" class="t" /><circle cx="626.0" cy="665.0" r="1.0" class="k"/><polygon points="637.5,657.5 698.3,623.3 712.5,631.7 713.0,686.0 702.0,690.0 655.8,720.0 637.5,711.7" class="p" /><line x1="655.8" y1="664.5" x2="655.8" y2="720.0" class="t"/><line x1="637.5" y1="657.5" x2="655.8" y2="664.5" class="t"/><line x1="655.8" y1="664.5" x2="712.5" y2="631.7" class="t"/><line x1="641.0" y1="660.0" x2="700.0" y2="627.0" class="t"/><ellipse cx="648.5" cy="673.0" rx="5" ry="2.3" transform="rotate(22 648.5 673.0)" class="t" stroke-width="1.9"/><ellipse cx="648.5" cy="681.2" rx="5" ry="2.3" transform="rotate(22 648.5 681.2)" class="t" stroke-width="1.9"/><ellipse cx="648.5" cy="689.4" rx="5" ry="2.3" transform="rotate(22 648.5 689.4)" class="t" stroke-width="1.9"/><ellipse cx="648.5" cy="697.6" rx="5" ry="2.3" transform="rotate(22 648.5 697.6)" class="t" stroke-width="1.9"/><ellipse cx="648.5" cy="705.8" rx="5" ry="2.3" transform="rotate(22 648.5 705.8)" class="t" stroke-width="1.9"/><line x1="651.7" y1="655.5" x2="685.0" y2="637.5" class="t" stroke-width="2.2"/><line x1="655.0" y1="671.0" x2="689.0" y2="652.5" class="t" stroke-width="2.4"/><line x1="655.0" y1="676.0" x2="689.0" y2="657.5" class="t" stroke-width="1.2"/><path d="M656,700 L690,681 L690,686 L656,705 Z" fill="#222"/><path d="M690,632 Q704,626 712,636 L712,685 Q700,690 694,686 L690,686 Z" class="p"/><line x1="692.0" y1="641.0" x2="711.0" y2="639.0" class="t" stroke-width="1.0"/><line x1="692.0" y1="648.2" x2="711.0" y2="646.2" class="t" stroke-width="1.0"/><line x1="692.0" y1="655.4" x2="711.0" y2="653.4" class="t" stroke-width="1.0"/><line x1="692.0" y1="662.6" x2="711.0" y2="660.6" class="t" stroke-width="1.0"/><line x1="692.0" y1="669.8" x2="711.0" y2="667.8" class="t" stroke-width="1.0"/><line x1="692.0" y1="677.0" x2="711.0" y2="675.0" class="t" stroke-width="1.0"/><line x1="655.8" y1="672.0" x2="690.0" y2="653.0" class="t" stroke-width="1.8"/><line x1="655.8" y1="690.0" x2="690.0" y2="671.0" class="t" stroke-width="2.2"/><line x1="656.0" y1="701.0" x2="690.0" y2="682.0" class="t" stroke-width="1.3"/><rect x="658.0" y="700.0" width="5" height="3" fill="#fff" stroke="#111" stroke-width="0.9"/><rect x="665.5" y="695.9" width="5" height="3" fill="#fff" stroke="#111" stroke-width="0.9"/><rect x="673.0" y="691.8" width="5" height="3" fill="#fff" stroke="#111" stroke-width="0.9"/><rect x="680.5" y="687.7" width="5" height="3" fill="#fff" stroke="#111" stroke-width="0.9"/><polygon points="653.0,717.0 660.0,715.0 660.0,722.0 653.0,724.0" class="p" /><polygon points="680.0,683.3 687.5,680.8 689.8,683.0 689.2,740.0 687.0,741.0 680.0,738.3" class="p" /><line x1="687.5" y1="683.5" x2="687.5" y2="741.0" class="t"/><circle cx="684.0" cy="727.0" r="0.9" class="k"/><path d="M711,693 L721,688 L721,694 L711,699 Z" fill="#222" stroke="#111"/><path d="M713,694 l2,-1 l0,3 l-2,1 z M717,692 l2,-1 l0,3 l-2,1 z" fill="#fff"/><path d="M729,680 L739,675 L739,681 L729,686 Z" fill="#222" stroke="#111"/><path d="M731,681 l2,-1 l0,3 l-2,1 z M735,679 l2,-1 l0,3 l-2,1 z" fill="#fff"/><path d="M711,725 L721,720 L721,726 L711,731 Z" fill="#222" stroke="#111"/><path d="M713,726 l2,-1 l0,3 l-2,1 z M717,724 l2,-1 l0,3 l-2,1 z" fill="#fff"/><path d="M729,713 L739,708 L739,714 L729,719 Z" fill="#222" stroke="#111"/><path d="M731,714 l2,-1 l0,3 l-2,1 z M735,712 l2,-1 l0,3 l-2,1 z" fill="#fff"/><polygon points="735.0,710.0 773.3,689.2 774.2,728.0 735.8,750.8" class="p" /><circle cx="740.0" cy="712.0" r="1.1" class="k"/><circle cx="739.0" cy="722.0" r="1.1" class="k"/><circle cx="741.0" cy="733.0" r="1.1" class="k"/><circle cx="740.0" cy="744.0" r="1.1" class="k"/><circle cx="768.0" cy="697.0" r="1.1" class="k"/><circle cx="768.0" cy="705.0" r="1.1" class="k"/><circle cx="770.0" cy="716.0" r="1.1" class="k"/><circle cx="748.0" cy="705.0" r="1.3" class="k"/><circle cx="752.0" cy="710.0" r="1.5" class="k"/><circle cx="760.0" cy="700.0" r="1.8" class="k"/><circle cx="771.0" cy="711.0" r="1.8" class="k"/><circle cx="740" cy="729" r="2.2" class="k"/><path d="M751.5,723 L751.5,741 A9.2,4 0 0 0 769.9,741 L769.9,723 Z" class="p"/><ellipse cx="760.7" cy="723" rx="9.2" ry="5" class="p"/><line x1="764.0" y1="726.0" x2="764.0" y2="745.0" class="t"/><polygon points="587.0,391.9 595.9,386.9 660.2,424.5 664.2,432.4 664.2,540.3 660.0,541.0 589.0,500.0 587.0,498.0" class="p" /><line x1="592.0" y1="390.0" x2="592.0" y2="499.5" class="t"/><line x1="595.9" y1="386.9" x2="596.0" y2="391.0" class="t"/><line x1="596.0" y1="391.0" x2="660.2" y2="428.5" class="t"/><line x1="660.2" y1="428.5" x2="664.2" y2="432.4" class="t"/><line x1="592.0" y1="497.0" x2="660.0" y2="537.0" class="t"/><ellipse cx="627.1" cy="490.8" rx="19.3" ry="25.2" transform="rotate(-14 627.1 490.8)" class="t" stroke-width="1.1"/><polygon points="601.8,401.8 615.7,408.7 615.7,422.5 601.8,415.6" class="t" /><circle cx="598.8" cy="406.7" r="1.2" class="k"/><circle cx="603.8" cy="479.0" r="2.0" class="k"/><circle cx="597.9" cy="493.8" r="2.4" class="k"/><circle cx="655.2" cy="487.9" r="2.4" class="k"/><circle cx="653.3" cy="471.0" r="1.0" class="k"/><circle cx="644.4" cy="476.4" r="1.1" class="k"/><circle cx="647.3" cy="503.7" r="2.0" class="k"/><circle cx="589.5" cy="443.0" r="0.8" class="k"/><circle cx="626.0" cy="516.0" r="0.9" class="k"/><circle cx="626.5" cy="403.0" r="0.9" class="k"/><circle cx="663.0" cy="485.0" r="0.8" class="k"/><path d="M626.5,428 L633,425 L634,429 L628,431 Z" class="p"/><path d="M621,446 L652,433.5 M623,451 L654,438.5" class="t" stroke-width="1.3"/><ellipse cx="653.5" cy="436" rx="2.4" ry="3.4" class="p" stroke-width="1.2"/><path d="M623,448 Q612,452 606,457 M622,450 Q613,455 608,461 M621,447 Q611,449 605,452 M624,451 Q617,458 612,462" class="t" stroke-width="1.7"/><polygon points="603.5,443.5 611.0,446.5 611.0,450.5 603.5,447.5" class="p" /><ellipse cx="580.5" cy="519.5" rx="18" ry="28.5" transform="rotate(-36 580.5 519.5)" fill="#fff" stroke="#111" stroke-width="1.3"/><polygon points="586.2,549.4 596.7,542.9 564.3,496.1 553.8,502.6" fill="#fff" stroke="none"/><line x1="586.2" y1="549.4" x2="596.7" y2="542.9" class="t" stroke-width="1.3"/><line x1="553.8" y1="502.6" x2="564.3" y2="496.1" class="t" stroke-width="1.3"/><ellipse cx="570" cy="526" rx="18" ry="28.5" transform="rotate(-36 570 526)" fill="#fff" stroke="#111" stroke-width="1.3"/><ellipse cx="570" cy="526" rx="15" ry="25" transform="rotate(-36 570 526)" class="t" stroke-width="1.0"/><ellipse cx="570.5" cy="525" rx="10.5" ry="11.5" class="t" stroke-width="1.0"/><path d="M565,507 Q578,505 584,517 L581,522 Q576,512 566,511 Z" fill="#222"/><path d="M553,512 Q556,505 563,503 M559,541 Q566,548 574,546 M582,533 Q588,538 587,546" class="t" stroke-width="1.1"/><path d="M558,529 L563,536 M560,527 L565,534" class="t" stroke-width="1.3"/><path d="M588,513 L595,510 M590,530 L598,526" class="t"/><circle cx="573.0" cy="519.0" r="1.0" class="k"/><rect x="547" y="535" width="3.5" height="5" class="p" stroke-width="0.8"/><rect x="546" y="534" width="5.5" height="2" class="p" stroke-width="0.8"/><path d="M551,474.5 L559,470 L567,473.5 L567,477.5 L559,481.5 L551,478 Z" fill="#fff" stroke="#111" stroke-width="1.1"/><path d="M551,476 L559,479.5 L567,475.5 L567,477.5 L559,481.5 L551,478 Z" fill="#222"/><line x1="559.0" y1="479.5" x2="559.0" y2="481.5" class="t" stroke-width="0.8"/><path d="M498,456 L500,455.5 L510.5,459.5 L510.5,465.5 L508.5,466.5 L498,462.5 Z" fill="#fff" stroke="#111" stroke-width="1.1"/><path d="M500,457.5 l3,1.2 l0,3.5 l-3,-1.2 z M505.5,459.5 l3,1.2 l0,3.5 l-3,-1.2 z" fill="#222"/><polygon points="498.0,475.0 509.8,479.0 509.8,499.0 498.0,495.0" class="p" /><ellipse cx="503.5" cy="483" rx="2.3" ry="2.6" class="t" stroke-width="1.1"/><circle cx="505.0" cy="491.0" r="0.9" class="k"/><g transform="translate(695 452.5) rotate(-30)"><ellipse cx="0.00" cy="0.00" rx="17.00" ry="26.86" fill="none" stroke="#111" stroke-width="1.6"/><ellipse cx="0.46" cy="0.07" rx="15.35" ry="24.25" fill="none" stroke="#111" stroke-width="1.15"/><ellipse cx="0.92" cy="0.13" rx="13.70" ry="21.65" fill="none" stroke="#111" stroke-width="1.15"/><ellipse cx="1.39" cy="0.20" rx="12.05" ry="19.04" fill="none" stroke="#111" stroke-width="1.15"/><ellipse cx="1.85" cy="0.26" rx="10.40" ry="16.43" fill="none" stroke="#111" stroke-width="1.15"/><ellipse cx="2.31" cy="0.33" rx="8.75" ry="13.83" fill="none" stroke="#111" stroke-width="1.15"/><ellipse cx="2.77" cy="0.40" rx="7.10" ry="11.22" fill="none" stroke="#111" stroke-width="1.15"/><ellipse cx="3.23" cy="0.46" rx="5.45" ry="8.61" fill="none" stroke="#111" stroke-width="1.15"/><ellipse cx="3.70" cy="0.53" rx="3.80" ry="6.00" fill="none" stroke="#111" stroke-width="1.15"/><ellipse cx="4.16" cy="0.59" rx="2.15" ry="3.40" fill="none" stroke="#111" stroke-width="1.15"/><line x1="-20" y1="0" x2="19" y2="0" stroke="#111" stroke-width="1.4"/><line x1="-2" y1="-26" x2="1" y2="26" stroke="#111" stroke-width="0.8"/></g><circle cx="673.5" cy="439.5" r="1.4" class="k"/><circle cx="716.5" cy="465.0" r="1.4" class="k"/><path d="M661,427 L686,413 M664,432 L688,418" class="t" stroke-width="1.1"/><path d="M661,427 Q659,430 664,432" class="t"/><path d="M685,410 L691,406 L697,407 L700,412 L698,417 L691,420 L686,418 Z" fill="#fff" stroke="#111" stroke-width="1.6"/><path d="M688,410 L693,408 L695,412 L690,414 Z M691,415 L696,413 L697,416 L692,418 Z" fill="#111"/><path d="M699,406 L722,394 M700,411 L724,398" class="t" stroke-width="1.1"/><path d="M712,399 L716,397 L717,401 L713,403 Z" class="t"/><path d="M721,392 L728,388.5 L731,394 L724,397.5 Z" class="p" stroke-width="1.2"/><path d="M728,389 Q733,386 738,384 M729.5,392 Q734,391 739,388.5 M730.5,394.5 Q735,395 737.5,393" class="t" stroke-width="1.8"/><path d="M736,383 l3.5,-1.5 l0.8,2 l-3.5,1.5 z M737.5,387.5 l3.5,-1.2 l0.6,2 l-3.5,1.2 z M736,392 l3,-0.8 l0.5,1.8 l-3,0.8 z" class="k"/><polygon points="691.7,344.5 701.0,338.0 724.0,348.0 724.0,358.0 721.5,366.0 711.0,375.0 693.0,367.0 692.0,364.0" class="p" /><line x1="691.7" y1="344.5" x2="711.0" y2="353.5" class="t" stroke-width="1.1"/><line x1="711.0" y1="353.5" x2="724.0" y2="347.5" class="t" stroke-width="1.1"/><line x1="711.0" y1="353.5" x2="711.0" y2="375.0" class="t" stroke-width="1.2"/><line x1="695.5" y1="347.9" x2="695.5" y2="365.9" class="t" stroke-width="1.4"/><polygon points="692.0,345.7 696.0,343.5 700.0,345.5 696.0,347.7" class="t" /><line x1="700.0" y1="350.0" x2="700.0" y2="368.0" class="t" stroke-width="1.4"/><polygon points="696.5,347.8 700.5,345.6 704.5,347.6 700.5,349.8" class="t" /><line x1="704.5" y1="352.1" x2="704.5" y2="370.1" class="t" stroke-width="1.4"/><polygon points="701.0,349.9 705.0,347.7 709.0,349.7 705.0,351.9" class="t" /><path d="M692.5,360 L711,368.5 L711,375 L693,367 Z" fill="#151515"/><rect x="694.0" y="363.4" width="2.2" height="3" fill="#fff"/><rect x="698.5" y="365.5" width="2.2" height="3" fill="#fff"/><rect x="703.0" y="367.6" width="2.2" height="3" fill="#fff"/><rect x="707.5" y="369.6" width="2.2" height="3" fill="#fff"/><path d="M716,352 Q722,350 724,355 L722,364 Q717,366 715,361 Z" class="t" stroke-width="1.1"/><circle cx="718.5" cy="357.5" r="1.3" class="k"/><path d="M711,353.5 L714,351.5 L714,372" class="t" stroke-width="1.0"/><polygon points="653.3,372.0 664.0,366.0 665.5,362.0 666.5,365.0 666.5,378.0 683.0,370.0 686.7,372.0 686.7,384.0 670.0,391.7 653.3,383.0" class="p" /><line x1="666.5" y1="378.0" x2="666.5" y2="391.0" class="t"/><line x1="653.3" y1="372.0" x2="666.5" y2="378.0" class="t"/><circle cx="661.0" cy="383.0" r="0.9" class="k"/><rect x="682" y="376" width="2" height="3" class="k"/><polygon points="504.4,336.7 509.0,335.0 533.8,344.0 533.8,351.5 525.8,355.5 504.4,344.2" class="p" stroke-width="1.1"/><line x1="504.4" y1="338.5" x2="524.0" y2="348.5" class="t" stroke-width="0.9"/><path d="M507.5,337 Q510,332 516,332.5 L524,336.5 Q530,338.5 533.5,341.5 L532,345.5 L524,349.5 L519,348 L511,344 L507,341 Z" fill="#111"/><path d="M515,335 l3,1.2 M521,338 l3,1.2 M512,338.5 l3,1.2" stroke="#fff" stroke-width="0.7"/><polygon points="522.5,348.0 527.5,345.5 527.5,353.0 522.5,355.5" class="p" stroke-width="0.9"/><polygon points="528.5,345.0 533.5,342.5 533.5,350.0 528.5,352.5" class="p" stroke-width="0.9"/><line x1="525.0" y1="347.0" x2="525.0" y2="354.5" class="t" stroke-width="0.7"/><line x1="531.0" y1="344.0" x2="531.0" y2="351.5" class="t" stroke-width="0.7"/><circle cx="511.0" cy="345.5" r="1.1" class="k"/><path d="M199.4,621 L214.7,627.5 L214,636.2 L198.4,629.4 Z" fill="#111" stroke="#111"/><path d="M217.5,631.6 L232.5,637.8 L231.9,646.9 L216.6,640.6 Z" fill="#111" stroke="#111"/><path d="M201,624 l2,1 m1,3 l3,1.3 m2,-2 l0,3 m2,0 l0,3 M219,635 l2,1 m1,3 l3,1.3 m2,-2 l0,3" stroke="#fff" stroke-width="0.7"/><path d="M232,639 L233,639.5 L232.5,646.5 L231.8,646" fill="#fff"/><circle cx="200.3" cy="636.3" r="2.8" fill="#222"/><circle cx="200.3" cy="636.3" r="1" fill="#fff"/><circle cx="209.4" cy="641.3" r="3" fill="#222"/><circle cx="209.6" cy="641.3" r="1.1" fill="#fff"/><circle cx="220" cy="651.9" r="5.5" fill="#111"/><circle cx="219.5" cy="652" r="2.6" fill="#fff"/><circle cx="219.5" cy="652" r="1.1" fill="#111"/><path d="M233.5,649 L240,647.5 L243,651 L242,656 L236,658 L233,655 Z" fill="#111"/><circle cx="240" cy="652" r="1.3" fill="#fff"/><path d="M210,719.5 L221,716.5 Q228,718.5 228,725.5 Q227,732.5 219,734.5 L210,733.5 Z" class="p" stroke-width="1.1"/><ellipse cx="210" cy="726.5" rx="5" ry="7.3" class="p" stroke-width="1.2"/><ellipse cx="210" cy="726.5" rx="3" ry="4.5" fill="#111"/><circle cx="210.5" cy="725.5" r="1.5" fill="#fff"/><path d="M227,719.5 l3,-1.5 l0,5 l-3,1.5 z" fill="#111"/><line x1="218.0" y1="717.2" x2="218.0" y2="734.3" class="t"/><circle cx="220.0" cy="723.5" r="0.9" class="k"/><path d="M249.5,741 L260.5,738 Q267.5,740 267.5,747 Q266.5,754 258.5,756 L249.5,755 Z" class="p" stroke-width="1.1"/><ellipse cx="249.5" cy="748" rx="5" ry="7.3" class="p" stroke-width="1.2"/><ellipse cx="249.5" cy="748" rx="3" ry="4.5" fill="#111"/><circle cx="250.0" cy="747" r="1.5" fill="#fff"/><path d="M266.5,741 l3,-1.5 l0,5 l-3,1.5 z" fill="#111"/><line x1="257.5" y1="738.7" x2="257.5" y2="755.8" class="t"/><circle cx="259.5" cy="745.0" r="0.9" class="k"/><ellipse cx="237" cy="732.2" rx="6" ry="7.3" class="p" stroke-width="1.2"/><ellipse cx="237.5" cy="732.5" rx="3.8" ry="4.6" fill="#222"/><circle cx="237.5" cy="732.5" r="1.6" fill="#fff"/><path d="M272,728 L291.5,704.5 Q295,703 296,706.5 L277.5,730 L278.5,740.5 L273,741 Z" class="p"/><line x1="272.0" y1="728.0" x2="277.5" y2="730.0" class="t"/><circle cx="293.5" cy="706.5" r="1.0" class="k"/><circle cx="281.5" cy="720.0" r="0.9" class="k"/><circle cx="276.0" cy="724.5" r="1.0" class="k"/><circle cx="275.5" cy="736.0" r="0.9" class="k"/><path d="M297,726 L302,722 L309,724 L314,726 L315.5,733 L309,739 L300,734 L296,731 Z" class="p"/><line x1="302.0" y1="722.0" x2="301.0" y2="731.0" class="t"/><line x1="309.0" y1="724.0" x2="308.0" y2="736.0" class="t"/><line x1="306" y1="723" x2="310.5" y2="714.5" stroke="#111" stroke-width="1.6"/><circle cx="304.5" cy="728.0" r="1.2" class="k"/><circle cx="301.0" cy="732.0" r="1.0" class="k"/>
</g>
<g class="L"><line x1="383.2" y1="148.2" x2="421.7" y2="198.3"/>
<line x1="322.7" y1="214.6" x2="455" y2="400"/>
<line x1="325.0" y1="254.6" x2="414" y2="341"/>
<line x1="324.4" y1="296.4" x2="390" y2="366"/>
<line x1="326.8" y1="334.4" x2="437" y2="409"/>
<line x1="327.3" y1="374.5" x2="393" y2="414"/>
<line x1="288.1" y1="373.9" x2="438" y2="468"/>
<line x1="239.5" y1="377.1" x2="280" y2="420"/>
<line x1="202.5" y1="376.0" x2="266" y2="432"/>
<line x1="149.2" y1="373.9" x2="271" y2="450"/>
<line x1="150.1" y1="420.0" x2="305" y2="492"/>
<line x1="150.3" y1="460.8" x2="274.5" y2="516"/>
<line x1="151.5" y1="502.3" x2="382" y2="541"/>
<line x1="151.4" y1="538.4" x2="295" y2="568"/>
<line x1="148.4" y1="581.5" x2="200.6" y2="620.5"/>
<line x1="150.7" y1="616.7" x2="198" y2="634"/>
<line x1="151.5" y1="649.8" x2="206" y2="641"/>
<line x1="150.4" y1="683.0" x2="216" y2="655"/>
<line x1="148.8" y1="715.6" x2="234" y2="657.5"/>
<line x1="150.0" y1="757.3" x2="204.5" y2="731"/>
<line x1="148.5" y1="797.2" x2="231.6" y2="737"/>
<line x1="227.2" y1="793.6" x2="250.5" y2="758.6"/>
<line x1="265.0" y1="791.1" x2="274.2" y2="740"/>
<line x1="302.0" y1="790.8" x2="305.4" y2="736"/>
<line x1="338.8" y1="790.9" x2="349.5" y2="705"/>
<line x1="376.8" y1="791.2" x2="411.7" y2="628.6"/>
<line x1="411.3" y1="790.9" x2="430.5" y2="634"/>
<line x1="448.5" y1="790.8" x2="456" y2="628"/>
<line x1="487.2" y1="790.8" x2="493" y2="684"/>
<line x1="540.1" y1="791.5" x2="578" y2="666"/>
<line x1="582.5" y1="790.8" x2="593" y2="629"/>
<line x1="623.5" y1="790.9" x2="610" y2="638"/>
<line x1="668.3" y1="791.6" x2="627" y2="667"/>
<line x1="707.7" y1="791.9" x2="687" y2="738"/>
<line x1="750.9" y1="792.7" x2="717" y2="728"/>
<line x1="813.3" y1="794.3" x2="757" y2="722"/>
<line x1="809.5" y1="692.6" x2="509" y2="492"/>
<line x1="808.6" y1="648.8" x2="590" y2="533"/>
<line x1="808.0" y1="589.8" x2="510" y2="465"/>
<line x1="804.1" y1="554.7" x2="562" y2="478"/>
<line x1="807.1" y1="506.5" x2="652.5" y2="470.6"/>
<line x1="806.9" y1="469.8" x2="715" y2="456"/>
<line x1="806.8" y1="435.3" x2="509" y2="409.5"/>
<line x1="806.8" y1="398.3" x2="700" y2="411"/>
<line x1="807.9" y1="359.0" x2="737" y2="387"/>
<line x1="808.4" y1="314.1" x2="725" y2="355"/>
<line x1="734.8" y1="317.9" x2="661" y2="384"/>
<line x1="670.3" y1="315.1" x2="549" y2="384"/>
<line x1="622.5" y1="314.2" x2="525" y2="362"/>
<line x1="576.0" y1="313.7" x2="527" y2="336"/></g>
<circle cx="373" cy="135" r="16.7" class="c"/>
<text x="0" y="142.1" class="n" transform="translate(373 0) scale(1.07 1)">1</text>
<circle cx="313" cy="201" r="16.7" class="c"/>
<text x="0" y="208.1" class="n" transform="translate(313 0) scale(1.07 1)">3</text>
<circle cx="313" cy="243" r="16.7" class="c"/>
<text x="0" y="250.1" class="n" transform="translate(313 0) scale(1.07 1)">4</text>
<circle cx="313" cy="284.2" r="16.7" class="c"/>
<text x="0" y="291.3" class="n" transform="translate(313 0) scale(1.07 1)">5</text>
<circle cx="313" cy="325" r="16.7" class="c"/>
<text x="0" y="332.1" class="n" transform="translate(313 0) scale(1.07 1)">6</text>
<circle cx="313" cy="365.9" r="16.7" class="c"/>
<text x="0" y="373.0" class="n" transform="translate(313 0) scale(1.07 1)">7</text>
<circle cx="274" cy="365" r="16.7" class="c"/>
<text x="0" y="372.1" class="n" transform="translate(274 0) scale(1.07 1)">8</text>
<circle cx="228" cy="365" r="16.7" class="c"/>
<text x="0" y="372.1" class="n" transform="translate(228 0) scale(1.07 1)">9</text>
<circle cx="190" cy="365" r="16.7" class="c"/>
<text x="0" y="372.1" class="n" transform="translate(190 0) scale(1.07 1)">10</text>
<circle cx="135" cy="365" r="16.7" class="c"/>
<text x="0" y="372.1" class="n" transform="translate(135 0) scale(1.07 1)">11</text>
<circle cx="135" cy="413" r="16.7" class="c"/>
<text x="0" y="420.1" class="n" transform="translate(135 0) scale(1.07 1)">12</text>
<circle cx="135" cy="454" r="16.7" class="c"/>
<text x="0" y="461.1" class="n" transform="translate(135 0) scale(1.07 1)">13</text>
<circle cx="135" cy="499.5" r="16.7" class="c"/>
<text x="0" y="506.6" class="n" transform="translate(135 0) scale(1.07 1)">14</text>
<circle cx="135" cy="535" r="16.7" class="c"/>
<text x="0" y="542.1" class="n" transform="translate(135 0) scale(1.07 1)">15</text>
<circle cx="135" cy="571.5" r="16.7" class="c"/>
<text x="0" y="578.6" class="n" transform="translate(135 0) scale(1.07 1)">16</text>
<circle cx="135" cy="611" r="16.7" class="c"/>
<text x="0" y="618.1" class="n" transform="translate(135 0) scale(1.07 1)">17</text>
<circle cx="135" cy="652.5" r="16.7" class="c"/>
<text x="0" y="659.6" class="n" transform="translate(135 0) scale(1.07 1)">18</text>
<circle cx="135" cy="689.5" r="16.7" class="c"/>
<text x="0" y="696.6" class="n" transform="translate(135 0) scale(1.07 1)">19</text>
<circle cx="135" cy="725" r="16.7" class="c"/>
<text x="0" y="732.1" class="n" transform="translate(135 0) scale(1.07 1)">20</text>
<circle cx="135" cy="764.6" r="16.7" class="c"/>
<text x="0" y="771.7" class="n" transform="translate(135 0) scale(1.07 1)">51</text>
<circle cx="135" cy="807" r="16.7" class="c"/>
<text x="0" y="814.1" class="n" transform="translate(135 0) scale(1.07 1)">21</text>
<circle cx="218" cy="807.5" r="16.7" class="c"/>
<text x="0" y="814.6" class="n" transform="translate(218 0) scale(1.07 1)">22</text>
<circle cx="262" cy="807.5" r="16.7" class="c"/>
<text x="0" y="814.6" class="n" transform="translate(262 0) scale(1.07 1)">23</text>
<circle cx="301" cy="807.5" r="16.7" class="c"/>
<text x="0" y="814.6" class="n" transform="translate(301 0) scale(1.07 1)">24</text>
<circle cx="336.7" cy="807.5" r="16.7" class="c"/>
<text x="0" y="814.6" class="n" transform="translate(336.7 0) scale(1.07 1)">25</text>
<circle cx="373.3" cy="807.5" r="16.7" class="c"/>
<text x="0" y="814.6" class="n" transform="translate(373.3 0) scale(1.07 1)">26</text>
<circle cx="409.3" cy="807.5" r="16.7" class="c"/>
<text x="0" y="814.6" class="n" transform="translate(409.3 0) scale(1.07 1)">27</text>
<circle cx="447.7" cy="807.5" r="16.7" class="c"/>
<text x="0" y="814.6" class="n" transform="translate(447.7 0) scale(1.07 1)">28</text>
<circle cx="486.3" cy="807.5" r="16.7" class="c"/>
<text x="0" y="814.6" class="n" transform="translate(486.3 0) scale(1.07 1)">29</text>
<circle cx="535.3" cy="807.5" r="16.7" class="c"/>
<text x="0" y="814.6" class="n" transform="translate(535.3 0) scale(1.07 1)">30</text>
<circle cx="581.4" cy="807.5" r="16.7" class="c"/>
<text x="0" y="814.6" class="n" transform="translate(581.4 0) scale(1.07 1)">31</text>
<circle cx="625" cy="807.5" r="16.7" class="c"/>
<text x="0" y="814.6" class="n" transform="translate(625 0) scale(1.07 1)">32</text>
<circle cx="673.6" cy="807.5" r="16.7" class="c"/>
<text x="0" y="814.6" class="n" transform="translate(673.6 0) scale(1.07 1)">33</text>
<circle cx="713.7" cy="807.5" r="16.7" class="c"/>
<text x="0" y="814.6" class="n" transform="translate(713.7 0) scale(1.07 1)">34</text>
<circle cx="758.7" cy="807.5" r="16.7" class="c"/>
<text x="0" y="814.6" class="n" transform="translate(758.7 0) scale(1.07 1)">35</text>
<circle cx="823.6" cy="807.5" r="16.7" class="c"/>
<text x="0" y="814.6" class="n" transform="translate(823.6 0) scale(1.07 1)">36</text>
<circle cx="823.4" cy="701.9" r="16.7" class="c"/>
<text x="0" y="709.0" class="n" transform="translate(823.4 0) scale(1.07 1)">37</text>
<circle cx="823.4" cy="656.6" r="16.7" class="c"/>
<text x="0" y="663.7" class="n" transform="translate(823.4 0) scale(1.07 1)">38</text>
<circle cx="823.4" cy="596.3" r="16.7" class="c"/>
<text x="0" y="603.4" class="n" transform="translate(823.4 0) scale(1.07 1)">39</text>
<circle cx="820" cy="559.7" r="16.7" class="c"/>
<text x="0" y="566.8000000000001" class="n" transform="translate(820 0) scale(1.07 1)">40</text>
<circle cx="823.4" cy="510.3" r="16.7" class="c"/>
<text x="0" y="517.4" class="n" transform="translate(823.4 0) scale(1.07 1)">41</text>
<circle cx="823.4" cy="472.3" r="16.7" class="c"/>
<text x="0" y="479.40000000000003" class="n" transform="translate(823.4 0) scale(1.07 1)">42</text>
<circle cx="823.4" cy="436.7" r="16.7" class="c"/>
<text x="0" y="443.8" class="n" transform="translate(823.4 0) scale(1.07 1)">43</text>
<circle cx="823.4" cy="396.3" r="16.7" class="c"/>
<text x="0" y="403.40000000000003" class="n" transform="translate(823.4 0) scale(1.07 1)">44</text>
<circle cx="823.4" cy="352.9" r="16.7" class="c"/>
<text x="0" y="360.0" class="n" transform="translate(823.4 0) scale(1.07 1)">45</text>
<circle cx="823.4" cy="306.8" r="16.7" class="c"/>
<text x="0" y="313.90000000000003" class="n" transform="translate(823.4 0) scale(1.07 1)">46</text>
<circle cx="747.2" cy="306.8" r="16.7" class="c"/>
<text x="0" y="313.90000000000003" class="n" transform="translate(747.2 0) scale(1.07 1)">47</text>
<circle cx="684.8" cy="306.8" r="16.7" class="c"/>
<text x="0" y="313.90000000000003" class="n" transform="translate(684.8 0) scale(1.07 1)">48</text>
<circle cx="637.5" cy="306.8" r="16.7" class="c"/>
<text x="0" y="313.90000000000003" class="n" transform="translate(637.5 0) scale(1.07 1)">49</text>
<circle cx="591.2" cy="306.8" r="16.7" class="c"/>
<text x="0" y="313.90000000000003" class="n" transform="translate(591.2 0) scale(1.07 1)">50</text>
<g id="wm" style="mix-blend-mode:multiply"><g transform="translate(131.4,208.2)"><circle r="25" fill="#f4f4f5"/><text x="-2.6" y="-1" class="ws">S</text><text x="1" y="20" class="wt">WELPRO</text></g>
<g transform="translate(305.2,208.2)"><circle r="25" fill="#f4f4f5"/><text x="-2.6" y="-1" class="ws">S</text><text x="1" y="20" class="wt">WELPRO</text></g>
<g transform="translate(479,208.2)"><circle r="25" fill="#f4f4f5"/><text x="-2.6" y="-1" class="ws">S</text><text x="1" y="20" class="wt">WELPRO</text></g>
<g transform="translate(652.8,208.2)"><circle r="25" fill="#f4f4f5"/><text x="-2.6" y="-1" class="ws">S</text><text x="1" y="20" class="wt">WELPRO</text></g>
<g transform="translate(826.6,208.2)"><circle r="25" fill="#f4f4f5"/><text x="-2.6" y="-1" class="ws">S</text><text x="1" y="20" class="wt">WELPRO</text></g>
<g transform="translate(215.8,278.3)"><circle r="25" fill="#f4f4f5"/><text x="-2.6" y="-1" class="ws">S</text><text x="1" y="20" class="wt">WELPRO</text></g>
<g transform="translate(389.6,278.3)"><circle r="25" fill="#f4f4f5"/><text x="-2.6" y="-1" class="ws">S</text><text x="1" y="20" class="wt">WELPRO</text></g>
<g transform="translate(563.4,278.3)"><circle r="25" fill="#f4f4f5"/><text x="-2.6" y="-1" class="ws">S</text><text x="1" y="20" class="wt">WELPRO</text></g>
<g transform="translate(737.2,278.3)"><circle r="25" fill="#f4f4f5"/><text x="-2.6" y="-1" class="ws">S</text><text x="1" y="20" class="wt">WELPRO</text></g>
<g transform="translate(131.4,351)"><circle r="25" fill="#f4f4f5"/><text x="-2.6" y="-1" class="ws">S</text><text x="1" y="20" class="wt">WELPRO</text></g>
<g transform="translate(305.2,351)"><circle r="25" fill="#f4f4f5"/><text x="-2.6" y="-1" class="ws">S</text><text x="1" y="20" class="wt">WELPRO</text></g>
<g transform="translate(479,351)"><circle r="25" fill="#f4f4f5"/><text x="-2.6" y="-1" class="ws">S</text><text x="1" y="20" class="wt">WELPRO</text></g>
<g transform="translate(652.8,351)"><circle r="25" fill="#f4f4f5"/><text x="-2.6" y="-1" class="ws">S</text><text x="1" y="20" class="wt">WELPRO</text></g>
<g transform="translate(826.6,351)"><circle r="25" fill="#f4f4f5"/><text x="-2.6" y="-1" class="ws">S</text><text x="1" y="20" class="wt">WELPRO</text></g>
<g transform="translate(215.8,433.5)"><circle r="25" fill="#f4f4f5"/><text x="-2.6" y="-1" class="ws">S</text><text x="1" y="20" class="wt">WELPRO</text></g>
<g transform="translate(389.6,433.5)"><circle r="25" fill="#f4f4f5"/><text x="-2.6" y="-1" class="ws">S</text><text x="1" y="20" class="wt">WELPRO</text></g>
<g transform="translate(563.4,433.5)"><circle r="25" fill="#f4f4f5"/><text x="-2.6" y="-1" class="ws">S</text><text x="1" y="20" class="wt">WELPRO</text></g>
<g transform="translate(737.2,433.5)"><circle r="25" fill="#f4f4f5"/><text x="-2.6" y="-1" class="ws">S</text><text x="1" y="20" class="wt">WELPRO</text></g>
<g transform="translate(131.4,510)"><circle r="25" fill="#f4f4f5"/><text x="-2.6" y="-1" class="ws">S</text><text x="1" y="20" class="wt">WELPRO</text></g>
<g transform="translate(305.2,510)"><circle r="25" fill="#f4f4f5"/><text x="-2.6" y="-1" class="ws">S</text><text x="1" y="20" class="wt">WELPRO</text></g>
<g transform="translate(479,510)"><circle r="25" fill="#f4f4f5"/><text x="-2.6" y="-1" class="ws">S</text><text x="1" y="20" class="wt">WELPRO</text></g>
<g transform="translate(652.8,510)"><circle r="25" fill="#f4f4f5"/><text x="-2.6" y="-1" class="ws">S</text><text x="1" y="20" class="wt">WELPRO</text></g>
<g transform="translate(826.6,510)"><circle r="25" fill="#f4f4f5"/><text x="-2.6" y="-1" class="ws">S</text><text x="1" y="20" class="wt">WELPRO</text></g>
<g transform="translate(215.8,586)"><circle r="25" fill="#f4f4f5"/><text x="-2.6" y="-1" class="ws">S</text><text x="1" y="20" class="wt">WELPRO</text></g>
<g transform="translate(389.6,586)"><circle r="25" fill="#f4f4f5"/><text x="-2.6" y="-1" class="ws">S</text><text x="1" y="20" class="wt">WELPRO</text></g>
<g transform="translate(563.4,586)"><circle r="25" fill="#f4f4f5"/><text x="-2.6" y="-1" class="ws">S</text><text x="1" y="20" class="wt">WELPRO</text></g>
<g transform="translate(737.2,586)"><circle r="25" fill="#f4f4f5"/><text x="-2.6" y="-1" class="ws">S</text><text x="1" y="20" class="wt">WELPRO</text></g>
<g transform="translate(131.4,661)"><circle r="25" fill="#f4f4f5"/><text x="-2.6" y="-1" class="ws">S</text><text x="1" y="20" class="wt">WELPRO</text></g>
<g transform="translate(305.2,661)"><circle r="25" fill="#f4f4f5"/><text x="-2.6" y="-1" class="ws">S</text><text x="1" y="20" class="wt">WELPRO</text></g>
<g transform="translate(479,661)"><circle r="25" fill="#f4f4f5"/><text x="-2.6" y="-1" class="ws">S</text><text x="1" y="20" class="wt">WELPRO</text></g>
<g transform="translate(652.8,661)"><circle r="25" fill="#f4f4f5"/><text x="-2.6" y="-1" class="ws">S</text><text x="1" y="20" class="wt">WELPRO</text></g>
<g transform="translate(826.6,661)"><circle r="25" fill="#f4f4f5"/><text x="-2.6" y="-1" class="ws">S</text><text x="1" y="20" class="wt">WELPRO</text></g>
<g transform="translate(215.8,737.5)"><circle r="25" fill="#f4f4f5"/><text x="-2.6" y="-1" class="ws">S</text><text x="1" y="20" class="wt">WELPRO</text></g>
<g transform="translate(389.6,737.5)"><circle r="25" fill="#f4f4f5"/><text x="-2.6" y="-1" class="ws">S</text><text x="1" y="20" class="wt">WELPRO</text></g>
<g transform="translate(563.4,737.5)"><circle r="25" fill="#f4f4f5"/><text x="-2.6" y="-1" class="ws">S</text><text x="1" y="20" class="wt">WELPRO</text></g>
<g transform="translate(737.2,737.5)"><circle r="25" fill="#f4f4f5"/><text x="-2.6" y="-1" class="ws">S</text><text x="1" y="20" class="wt">WELPRO</text></g></g>
</svg>
<div class="tb" style="left:644px;top:876px;font-size:11.5px;transform:scaleX(0.905);transform-origin:0 0;font-weight:bold;letter-spacing:0.1px">WELDING MACHINE</div>
<div class="tb" style="left:647.5px;top:888.5px;font-size:10.3px;transform:scaleX(0.9);transform-origin:0 0;font-weight:bold">WELPRO - MIG250FS</div>
<div class="tb" style="left:774px;top:846.5px;font-size:8.2px">Code B1</div>
<div class="tb" style="left:774px;top:862.5px;font-size:8.2px">Barcode</div>
<div class="tb" style="left:774px;top:878.5px;font-size:8.2px">Model</div>
<div class="tb" style="left:774px;top:894.5px;font-size:8.2px">Rev.</div>
<div class="tb" style="left:831px;top:846.5px;font-size:8.2px">: AAWPMIG25026</div>
<div class="tb" style="left:831px;top:862.5px;font-size:8.2px">: 8855468055886</div>
<div class="tb" style="left:831px;top:878.5px;font-size:8.2px">: MIG250FS</div>
<div class="tb" style="left:831px;top:894.5px;font-size:8.2px">: 00(05/11/2019)</div>
<div class="tb" style="left:645px;top:845.5px;font-size:7.2px;font-weight:bold;transform:scaleX(1.14);transform-origin:0 0">บริษัท สินสงวนแอนด์ซันส์ จำกัด</div>
<div class="tb" style="left:645px;top:854.5px;font-size:7.2px;font-weight:bold;transform:scaleX(0.96);transform-origin:0 0">SING SANGUAN &amp; SONS CO.,LTD.</div>
<svg width="960" height="960" style="pointer-events:none"><path d="M641.5 848.2 q-9.5 -1.5 -10 3.6 q0 3 5 4.6 q5 1.5 3.8 4.2 q-2 2.2 -8.5 1.2" fill="none" stroke="#111" stroke-width="3.6" stroke-linecap="round"/></svg>
<div class="tb" style="left:740.5px;top:913px;font-size:11.5px;font-weight:bold">FM-RD-010 Rev.03 (23/09/2019)</div>
</body></html>
